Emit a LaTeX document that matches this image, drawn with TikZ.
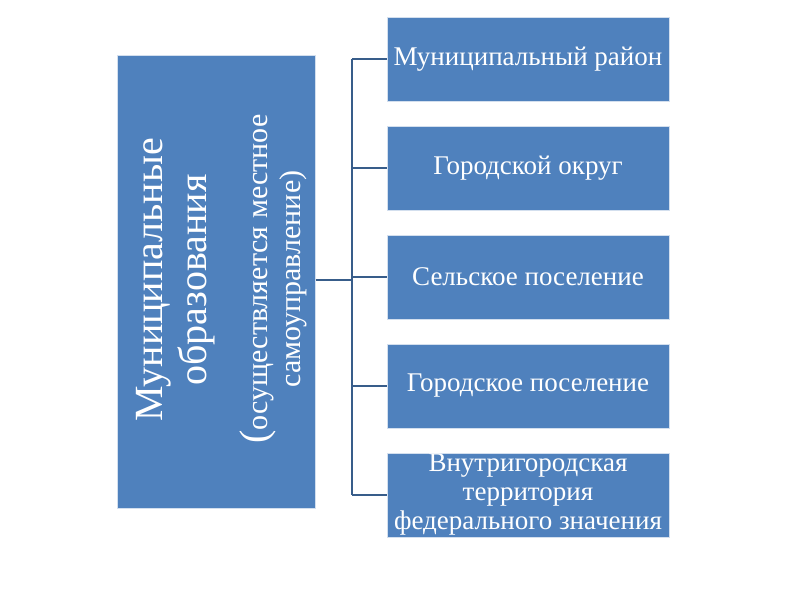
\documentclass[tikz,border=0pt]{standalone}
\usepackage{fontspec}
\setmainfont{Liberation Serif}
\usetikzlibrary{positioning}
\definecolor{boxblue}{HTML}{4F81BD}
\definecolor{linkblue}{HTML}{385D8A}

\begin{document}
\begin{tikzpicture}[x=1pt,y=-1pt,
  unit/.style={draw=white!75!boxblue, line width=1pt, fill=boxblue, text=white,
    minimum width=282pt, minimum height=84pt, inner sep=0pt, align=center,
    font=\fontsize{27}{29}\selectfont},
  link/.style={draw=linkblue, line width=1.6pt}]
  \useasboundingbox (0,0) rectangle (800,600);

  % Left box with the rotated title
  \node[unit, minimum width=198pt, minimum height=453pt] (mo) at (216,281.5) {};
  \node[rotate=90, text=white, align=center, inner sep=0pt,
    font=\fontsize{40}{44}\selectfont] (mo-title) at (176,280)
    {Муниципальные\\образования};
  \node[rotate=90, text=white, align=center, inner sep=0pt,
    font=\fontsize{30}{33}\selectfont] (mo-note) at (273,279)
    {{\fontsize{40}{33}\selectfont(}осуществляется местное\\самоуправление)};

  % Right column of boxes
  \node[unit] (r1) at (528,59) {Муниципальный район};
  \node[unit, below=24pt of r1] (r2) {Городской округ};
  \node[unit, below=24pt of r2] (r3) {Сельское поселение};
  \node[unit, below=24pt of r3] (r4) {Городское поселение};
  \node[unit, below=24pt of r4] (r5) {Внутригородская\\территория\\федерального значения};

  % Bracket connectors
  \coordinate (hub) at (352,280);
  \draw[link] (mo.east |- hub) -- (hub);
  \draw[link] (hub |- r1.west) -- (hub |- r5.west);
  \foreach \i in {1,...,5}
    \draw[link] (hub |- r\i.west) -- (r\i.west);
\end{tikzpicture}
\end{document}
